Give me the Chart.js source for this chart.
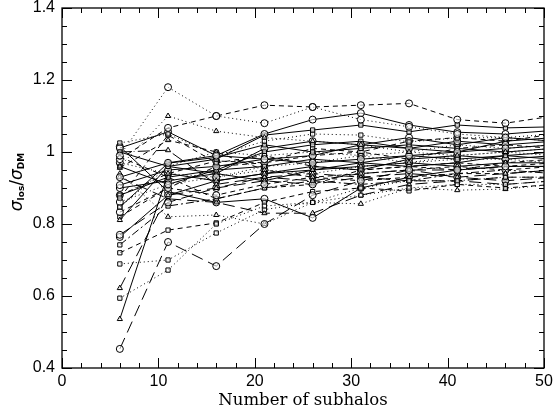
<!DOCTYPE html>
<html>
<head>
<meta charset="utf-8">
<script src="https://cdn.jsdelivr.net/npm/chart.js@4"></script>
<style>
  body { margin: 0; background: #fff; }
  #wrap { width: 553px; height: 412px; }
</style>
</head>
<body>
<div id="wrap"><canvas id="myChart"></canvas></div>
<script>
// number of subhalos used for each estimate
const subhaloCounts = [6, 11, 16, 21, 26, 31, 36, 41, 46, 51];

// sigma_los / sigma_DM for each halo, one row per halo
const runs = [
  [0.99, 1.18, 1.10, 1.08, 1.125, 1.09, 1.07, 1.05, 1.04, 1.03],
  [0.98, 1.067, 1.10, 1.13, 1.125, 1.13, 1.135, 1.09, 1.08, 1.10],
  [0.96, 1.10, 1.058, 1.04, 1.03, 1.02, 1.0, 0.99, 1.0, 1.01],
  [0.93, 0.97, 0.99, 1.05, 1.09, 1.108, 1.075, 1.055, 1.05, 1.06],
  [1.0, 0.96, 0.98, 1.047, 1.061, 1.075, 1.056, 1.075, 1.067, 1.07],
  [1.025, 1.05, 0.99, 1.03, 1.05, 1.047, 1.028, 1.039, 1.04, 1.05],
  [0.453, 0.75, 0.683, 0.80, 0.88, 0.92, 0.95, 0.95, 0.96, 0.96],
  [0.536, 0.94, 0.92, 0.94, 0.95, 0.96, 0.97, 0.96, 0.97, 0.97],
  [0.622, 0.88, 0.90, 0.93, 0.92, 0.94, 0.95, 0.93, 0.94, 0.95],
  [0.594, 0.672, 0.80, 0.85, 0.86, 0.90, 0.92, 0.92, 0.93, 0.93],
  [0.689, 0.70, 0.775, 0.84, 0.86, 0.88, 0.90, 0.91, 0.91, 0.92],
  [1.011, 1.056, 0.99, 0.98, 0.97, 0.98, 0.99, 1.0, 1.01, 1.02],
  [0.872, 1.047, 0.97, 0.99, 0.96, 0.95, 0.96, 0.95, 0.97, 0.98],
  [0.956, 1.033, 1.0, 0.95, 0.93, 0.92, 0.93, 0.94, 0.94, 0.95],
  [1.0, 1.005, 0.91, 0.93, 0.94, 0.93, 0.92, 0.92, 0.93, 0.93],
  [0.847, 0.969, 0.985, 1.02, 1.0, 1.01, 1.02, 1.01, 1.0, 1.01],
  [0.908, 0.95, 0.96, 0.98, 0.99, 1.02, 1.01, 1.03, 1.02, 1.03],
  [0.88, 0.93, 0.95, 0.96, 0.98, 0.97, 0.99, 0.98, 0.99, 1.0],
  [0.861, 0.91, 0.93, 0.95, 0.94, 0.96, 0.97, 0.98, 0.98, 0.97],
  [0.833, 0.90, 0.88, 0.91, 0.93, 0.94, 0.95, 0.96, 0.95, 0.96],
  [0.811, 0.96, 0.94, 0.92, 0.95, 0.97, 0.96, 0.97, 0.99, 0.98],
  [0.77, 0.86, 0.90, 0.92, 0.91, 0.93, 0.94, 0.93, 0.92, 0.93],
  [0.764, 0.88, 0.92, 0.94, 0.96, 0.95, 0.98, 0.99, 0.98, 0.99],
  [0.742, 0.85, 0.87, 0.90, 0.92, 0.91, 0.92, 0.94, 0.95, 0.94],
  [0.72, 0.783, 0.803, 0.86, 0.89, 0.90, 0.892, 0.91, 0.90, 0.91],
  [0.94, 0.82, 0.825, 0.80, 0.86, 0.856, 0.90, 0.894, 0.897, 0.91],
  [0.93, 0.87, 0.86, 0.83, 0.83, 0.88, 0.91, 0.92, 0.91, 0.92],
  [1.015, 0.89, 0.86, 0.87, 0.817, 0.90, 0.93, 0.95, 0.96, 0.96],
  [0.986, 0.93, 0.87, 0.90, 0.91, 0.95, 0.96, 0.97, 0.96, 0.97],
  [0.847, 0.96, 1.0, 0.99, 1.0, 0.99, 1.0, 1.02, 1.01, 1.02],
  [0.96, 0.91, 0.95, 1.0, 1.02, 1.03, 1.01, 1.0, 1.03, 1.04],
  [0.88, 0.94, 0.975, 0.97, 0.99, 1.0, 1.03, 1.04, 1.03, 1.05],
  [0.90, 0.92, 0.94, 1.01, 1.03, 1.02, 1.04, 1.02, 1.04, 1.03],
  [0.82, 0.90, 0.96, 0.97, 1.01, 1.00, 0.98, 1.01, 1.02, 1.01],
  [0.97, 0.94, 0.93, 0.96, 0.97, 0.99, 0.97, 0.99, 1.0, 0.99]
];

const yTicks = [0.4, 0.6, 0.8, 1, 1.2, 1.4];
const xTicks = [0, 10, 20, 30, 40, 50];

// line style and marker per halo
const dashes = {
  solid: [],
  dotted: [1, 3],
  dashed: [5, 4],
  long: [12, 6],
  dashdot: [8, 3, 2, 3]
};
const lineKinds = ['dotted', 'dashed', 'dotted', 'solid', 'solid', 'dotted', 'long', 'solid',
  'long', 'dotted', 'dotted', 'solid', 'dashed', 'dashed', 'long', 'solid', 'solid', 'solid',
  'dotted', 'dashed', 'solid', 'long', 'solid', 'dashdot', 'dashed', 'dotted', 'long', 'solid',
  'dashed', 'dotted', 'solid', 'dashed', 'solid', 'dashed', 'dotted'];
const markerKinds = ['circle', 'circle', 'triangle', 'circle', 'rect', 'rect', 'circle', 'triangle',
  'triangle', 'rect', 'rect', 'circle', 'rect', 'triangle', 'triangle', 'rect', 'circle', 'rect',
  'circle', 'circle', 'triangle', 'circle', 'circle', 'rect', 'rect', 'triangle', 'triangle', 'circle',
  'triangle', 'rect', 'rect', 'circle', 'circle', 'rect', 'circle'];

const datasets = runs.map((vals, i) => ({
  label: 'halo ' + (i + 1),
  data: vals.map((v, j) => ({x: subhaloCounts[j], y: v})),
  borderColor: '#000',
  borderWidth: 1,
  borderDash: dashes[lineKinds[i]],
  pointStyle: markerKinds[i],
  pointRadius: markerKinds[i] === 'circle' ? 3.5 : 3,
  pointBackgroundColor: 'rgba(255,255,255,0.6)',
  pointBorderColor: '#000',
  pointBorderWidth: 1,
  tension: 0
}));

// box and inward ticks on all four sides, plus the y title with subscripts
const frame = {
  id: 'frame',
  afterDatasetsDraw(chart) {
    const {ctx, chartArea: a, scales} = chart;
    const xs = scales.x, ys = scales.y;
    ctx.save();
    ctx.strokeStyle = '#000';
    ctx.lineWidth = 1.3;
    ctx.setLineDash([]);
    ctx.strokeRect(a.left, a.top, a.right - a.left, a.bottom - a.top);
    ctx.lineWidth = 1;
    ctx.beginPath();
    for (let v = 0; v <= 50; v += 2) {
      const px = Math.round(xs.getPixelForValue(v)) + 0.5;
      const len = v % 10 === 0 ? 10 : 5;
      ctx.moveTo(px, a.bottom); ctx.lineTo(px, a.bottom - len);
      ctx.moveTo(px, a.top); ctx.lineTo(px, a.top + len);
    }
    for (let k = 0; k <= 20; k++) {
      const py = Math.round(ys.getPixelForValue(0.4 + k * 0.05)) + 0.5;
      const len = k % 4 === 0 ? 10 : 5;
      ctx.moveTo(a.left, py); ctx.lineTo(a.left + len, py);
      ctx.moveTo(a.right, py); ctx.lineTo(a.right - len, py);
    }
    ctx.stroke();

    // y title: sigma_los / sigma_DM
    const parts = [
      {t: 'σ', f: 'italic 17px "DejaVu Sans"', dy: 0},
      {t: 'los', f: 'bold 9px "DejaVu Sans"', dy: 4},
      {t: '/', f: '17px "DejaVu Sans"', dy: 0},
      {t: 'σ', f: 'italic 17px "DejaVu Sans"', dy: 0},
      {t: 'DM', f: 'bold 9px "DejaVu Sans"', dy: 4}
    ];
    let w = 0;
    parts.forEach(p => { ctx.font = p.f; p.w = ctx.measureText(p.t).width; w += p.w; });
    ctx.translate(18, 182);
    ctx.rotate(-Math.PI / 2);
    ctx.fillStyle = '#000';
    ctx.textBaseline = 'middle';
    let x = -w / 2;
    parts.forEach(p => { ctx.font = p.f; ctx.fillText(p.t, x, p.dy); x += p.w; });
    ctx.restore();
  }
};

new Chart(document.getElementById('myChart'), {
  type: 'line',
  data: {datasets},
  options: {
    responsive: true,
    maintainAspectRatio: false,
    animation: false,
    layout: {autoPadding: false, padding: {top: 8, right: 9, bottom: 0, left: 0}},
    plugins: {legend: {display: false}, tooltip: {enabled: false}},
    scales: {
      x: {
        type: 'linear',
        min: 0,
        max: 50,
        afterBuildTicks: s => { s.ticks = xTicks.map(v => ({value: v})); },
        afterFit: s => { s.height = 44; s.paddingLeft = 0; s.paddingRight = 0; },
        grid: {display: false, drawTicks: false},
        border: {display: false},
        ticks: {color: '#000', padding: 4, maxRotation: 0, font: {family: '"Liberation Sans"', size: 16}},
        title: {
          display: true,
          text: 'Number of subhalos',
          color: '#000',
          padding: {top: 0, bottom: 1},
          font: {family: '"DejaVu Serif"', size: 16.5}
        }
      },
      y: {
        min: 0.4,
        max: 1.4,
        afterBuildTicks: s => { s.ticks = yTicks.map(v => ({value: v})); },
        afterFit: s => { s.width = 62; s.paddingTop = 0; s.paddingBottom = 0; },
        grid: {display: false, drawTicks: false},
        border: {display: false},
        ticks: {
          color: '#000',
          padding: 7,
          font: {family: '"Liberation Sans"', size: 16},
          callback: v => String(Number(v.toFixed(1)))
        }
      }
    }
  },
  plugins: [frame]
});
</script>
</body>
</html>
